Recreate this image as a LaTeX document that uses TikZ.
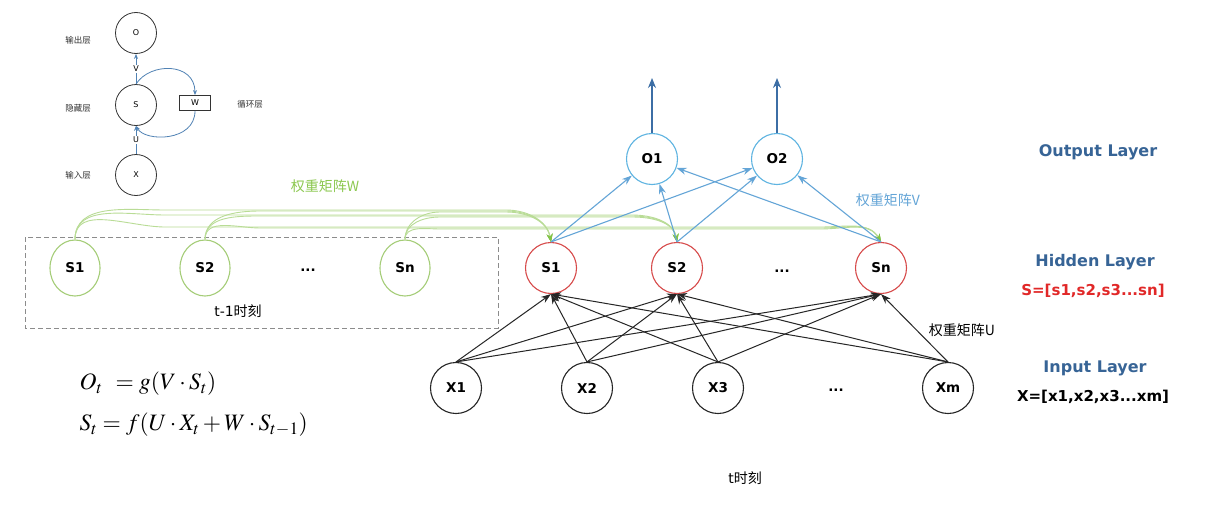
\documentclass[tikz,border=0pt]{standalone}
\usepackage{mathptmx}
\usepackage{fontspec}
\setmainfont{DejaVu Sans}
\newfontfamily\cjk{Noto Sans CJK SC}
\usetikzlibrary{arrows.meta,shapes.geometric,calc}
\definecolor{gline}{RGB}{185,220,150}
\definecolor{gnode}{RGB}{165,205,120}
\definecolor{gtext}{RGB}{140,200,80}
\definecolor{gtip}{RGB}{130,195,70}
\definecolor{rnode}{RGB}{215,75,75}
\definecolor{bnode}{RGB}{95,180,225}
\definecolor{barrow}{RGB}{100,165,215}
\definecolor{uparrow}{RGB}{60,110,165}
\definecolor{darkblue}{RGB}{55,100,150}
\definecolor{sred}{RGB}{225,40,40}
\definecolor{smallblue}{RGB}{80,130,180}
\tikzset{
  base/.style={inner sep=0pt, font=\bfseries\fontsize{13.5}{13.5}\selectfont},
  rnd/.style={base, circle, minimum size=51pt, draw=rnode, line width=1.1pt},
  bnd/.style={base, circle, minimum size=51pt, draw=bnode, line width=1.1pt},
  xnd/.style={base, circle, minimum size=51pt, draw=black!85, line width=1.1pt},
  gnd/.style={base, ellipse, minimum width=50pt, minimum height=56pt, draw=gnode, line width=1.1pt},
  dots/.style={base},
  snd/.style={circle, minimum size=41pt, inner sep=0pt, draw=black!80, line width=0.8pt, font=\fontsize{8}{8}\selectfont},
  slab/.style={font=\cjk\fontsize{8.5}{8.5}\selectfont, text=black!80},
  sarr/.style={draw=smallblue, line width=0.8pt, -{Stealth[length=5pt,width=4pt]}},
  tip/.style={-{Stealth[length=10pt,width=7pt]}},
  uarr/.style={draw=black!85, line width=1pt, tip},
  varr/.style={draw=barrow, line width=1.1pt, -{Stealth[length=10pt,width=7pt]}},
  warr/.style={draw=gline, line width=0.9pt, -{Stealth[length=8pt,width=6pt,color=gtip]}},
  layer/.style={font=\bfseries\fontsize{16}{16}\selectfont, text=darkblue},
  cjkl/.style={font=\cjk\fontsize{14}{14}\selectfont},
}
\begin{document}
\begin{tikzpicture}[x=1pt,y=-1pt]
\useasboundingbox (0,0) rectangle (1228,514);
\fill[white] (0,0) rectangle (1228,514);

% ---------- small diagram (top left)
\node[snd] (so) at (136,33) {O};
\node[snd] (ss) at (136,105) {S};
\node[snd] (sx) at (136,175) {X};
\node[draw=black!80, line width=0.8pt, minimum width=31pt, minimum height=15pt, inner sep=0pt, font=\fontsize{8}{8}\selectfont] (sw) at (195,103) {W};
\node[slab] (l1) at (78,40) {输出层};
\node[slab] (l2) at (78,108) {隐藏层};
\node[slab] (l3) at (78,175) {输入层};
\node[slab] (l4) at (250,104) {循环层};
\draw[sarr] (ss.north) -- node[fill=white, inner sep=1pt, font=\fontsize{8}{8}\selectfont] {V} (so.south);
\draw[sarr] (sx.north) -- node[fill=white, inner sep=1pt, font=\fontsize{8}{8}\selectfont] {U} (ss.south);
\draw[sarr] (ss.north) .. controls (150,62) and (195,62) .. (sw.north);
\draw[sarr] (sw.south) .. controls (195,142) and (145,142) .. (ss.south);

% ---------- previous time step
\draw[draw=black!45, line width=0.9pt, dash pattern=on 5pt off 3pt] (25,237) rectangle (498,328);
\node[gnd] (p1) at (75,268) {S1};
\node[gnd] (p2) at (205,268) {S2};
\node[dots] (pd) at (308,270) {...};
\node[gnd] (pn) at (405,268) {Sn};
\node[font=\fontsize{14}{14}\selectfont] (tm1) at (238,311) {t-1\cjk 时刻};

% ---------- current layers
\node[bnd] (o1) at (652,159) {O1};
\node[bnd] (o2) at (777,159) {O2};
\coordinate (e1) at (652,78);
\coordinate (e2) at (777,78);
\node[rnd] (s1) at (551,268) {S1};
\node[rnd] (s2) at (677,268) {S2};
\node[dots] (sd) at (782,271) {...};
\node[rnd] (sn) at (881,268) {Sn};
\node[xnd] (x1) at (456,388) {X1};
\node[xnd] (x2) at (587,388) {X2};
\node[xnd] (x3) at (718,388) {X3};
\node[dots] (xd) at (836,390) {...};
\node[xnd] (xm) at (948,388) {Xm};

% output arrows
\draw[draw=uparrow, line width=1.2pt, -{Stealth[length=10pt,width=8pt]}] (o1.north) -- (e1);
\draw[draw=uparrow, line width=1.2pt, -{Stealth[length=10pt,width=8pt]}] (o2.north) -- (e2);

% W arcs
\foreach \p/\pa/\rs in {p1/0/90, p2/1/55, pn/2/35}{
  \foreach \c/\L/\r/\ci in {s1/210/45/100, s2/215/45/100, sn/227/60/120}{
    \draw[warr] (\p.north) to[out=90,in=180] ($(\p.north |- 0,\L)+(\rs,\pa)$)
      -- ($(\c.north |- 0,\L)+(-\r,\pa)$) to[out=0,in=\ci] (\c.north);
  }
}

% V arrows
\foreach \s in {s1,s2,sn}{
  \draw[varr] (\s.north) -- (o1);
  \draw[varr] (\s.north) -- (o2);
}

% U arrows
\foreach \x in {x1,x2,x3,xm}{
  \foreach \s in {s1,s2,sn}{
    \draw[uarr] (\x.north) -- (\s.south);
  }
}

% labels
\node[cjkl, text=gtext] (lw) at (325,186) {权重矩阵W};
\node[cjkl, text=barrow] (lv) at (888,200) {权重矩阵V};
\node[cjkl] (lu) at (962,330) {权重矩阵U};
\node[layer] (lo) at (1098,152) {Output Layer};
\node[layer] (lh) at (1095,262) {Hidden Layer};
\node[font=\bfseries\fontsize{15}{15}\selectfont, text=sred] (ls) at (1093,291) {S=[s1,s2,s3...sn]};
\node[layer] (li) at (1095,368) {Input Layer};
\node[font=\bfseries\fontsize{15}{15}\selectfont] (lx) at (1093,397) {X=[x1,x2,x3...xm]};
\node[font=\fontsize{14}{14}\selectfont] (lt) at (745,478) {t\cjk 时刻};

% formulas
\node[anchor=west, font=\fontsize{23.5}{23.5}\selectfont] (f1) at (76,384) {$O_t\;\, = g(V\cdot S_t)$};
\node[anchor=west, font=\fontsize{23.5}{23.5}\selectfont] (f2) at (76,425) {$S_t = f(U\cdot X_t + W\cdot S_{t-1})$};
\end{tikzpicture}
\end{document}
